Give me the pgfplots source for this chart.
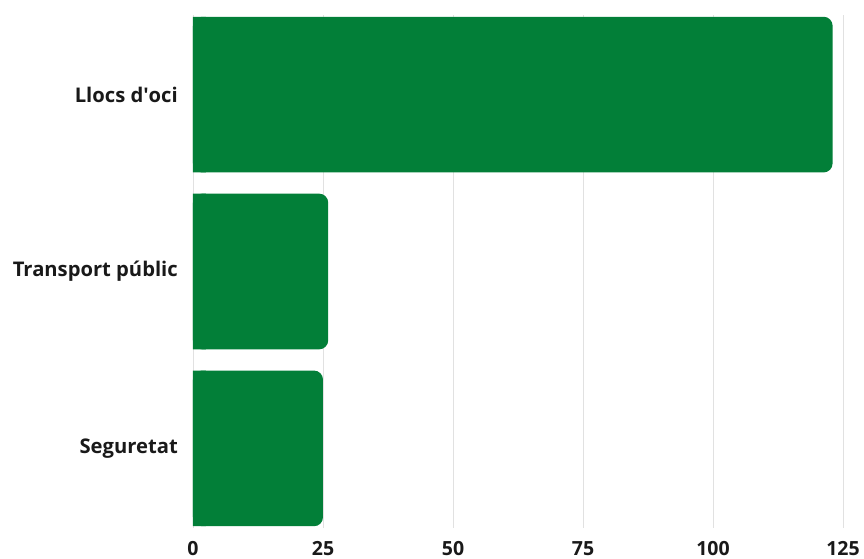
\documentclass[border=0pt]{standalone}
\usepackage{fontspec}
\setmainfont{Open Sans}
\usepackage{pgfplots}
\pgfplotsset{compat=1.18}
\definecolor{barg}{RGB}{2,127,56}
\definecolor{gridc}{RGB}{225,225,225}
\begin{document}
\begin{tikzpicture}
\begin{axis}[
 scale only axis, width=650pt, height=513pt,
 xmin=0, xmax=125, ymin=-0.45, ymax=2.45,
 xtick={0,25,50,75,100,125},
 ytick={0,1,2}, yticklabels={Seguretat, Transport públic, Llocs d\textquotesingle oci},
 axis line style={draw=none},
 major tick length=0pt,
 xmajorgrids, major grid style={gridc, line width=0.8pt},
 tick label style={text=black!90},
 /pgf/number format/assume math mode=true,
 xticklabel style={font=\fontsize{19.5}{23}\selectfont\bfseries, inner sep=0pt, anchor=north, yshift=-13pt},
 yticklabel style={font=\fontsize{20.2}{24}\selectfont\bfseries, inner sep=0pt, anchor=east, xshift=-15pt},
]
\addplot[xbar, bar width=0.88, bar shift=0pt, fill=barg, draw=none] coordinates {(2.5,2) (2.5,1) (2.5,0)};
\addplot[xbar, bar width=0.88, bar shift=0pt, fill=barg, draw=none, rounded corners=9pt] coordinates {(123,2) (26,1) (25,0)};
\end{axis}
\pgfresetboundingbox
\path[use as bounding box] ([xshift=-193pt,yshift=-31pt]current axis.south west) rectangle ([xshift=21pt,yshift=15pt]current axis.north east);
\end{tikzpicture}
\end{document}
